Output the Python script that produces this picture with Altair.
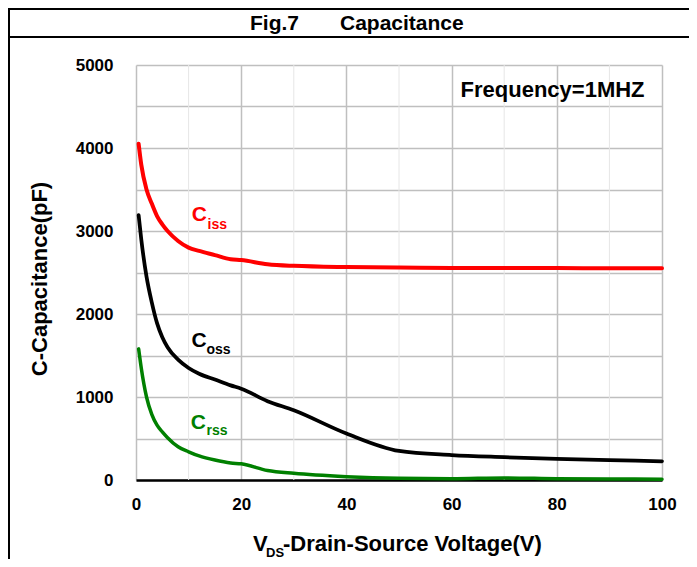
import altair as alt
import pandas as pd

# ---- data ----
V = [0.5, 1, 2, 3, 4, 5, 6, 8, 10, 12, 15, 18, 20, 25, 30, 40, 50, 60, 70, 80, 90, 100]
ciss = [4050, 3800, 3500, 3330, 3180, 3080, 3000, 2880, 2800, 2760, 2710, 2660, 2650, 2600, 2580,
        2565, 2560, 2555, 2555, 2555, 2550, 2550]
coss = [3190, 2900, 2450, 2140, 1890, 1720, 1600, 1450, 1350, 1280, 1210, 1140, 1100, 950, 840,
        560, 350, 300, 275, 255, 240, 225]
crss = [1580, 1350, 1000, 790, 660, 580, 510, 400, 340, 290, 240, 205, 195, 115, 80,
        40, 20, 15, 25, 15, 12, 10]
series_names = ["Ciss", "Coss", "Crss"]
series_colors = ["#ff0000", "#000000", "#008000"]
series_widths = [4, 3.5, 4]

x_ticks = [0, 20, 40, 60, 80, 100]
x_minor = [10, 30, 50, 70, 90]
y_ticks = list(range(0, 5001, 500))

label_main = ["C", "C", "C"]
label_sub = ["iss", "oss", "rss"]
label_main_v = [10.6, 10.55, 10.4]
label_main_c = [3120, 1602, 620]
label_sub_v = [13.6, 13.4, 13.4]
label_sub_c = [3024, 1524, 542]

freq_text = "Frequency=1MHZ"
title_a = "Fig.7"
title_b = "Capacitance"
y_title = "C-Capacitance(pF)"
x_title_main = "V"
x_title_sub = "DS"
x_title_rest = "-Drain-Source Voltage(V)"

FONT = "Liberation Sans"
W, H = 526, 415
PAD = {"left": 128, "top": 57, "right": 27, "bottom": 79}
GRID = "#bfbfbf"

rows = []
for name, vals in zip(series_names, (ciss, coss, crss)):
    for v, c in zip(V, vals):
        rows.append({"series": name, "V": v, "C": c})
df = pd.DataFrame(rows)

xs = alt.Scale(domain=[0, 100], nice=False, zero=False)
ys = alt.Scale(domain=[0, 5000], nice=False)
X_AX = alt.Axis(values=x_ticks, title=None, grid=True, gridColor=GRID, gridWidth=1.5,
                domain=True, domainColor="#000000", domainWidth=2.5, ticks=False,
                labelFont=FONT, labelFontSize=17, labelFontWeight="bold", labelColor="#000000",
                labelPadding=16, labelFlush=False, labelOverlap=False)
Y_AX = alt.Axis(values=y_ticks, title=None, grid=True, gridColor=GRID, gridWidth=1.5,
                domain=False, ticks=False, format="d",
                labelExpr="datum.value % 1000 === 0 ? datum.label : ''",
                labelFont=FONT, labelFontSize=17, labelFontWeight="bold", labelColor="#000000",
                labelPadding=23, labelOverlap=False)
color = alt.Color("series:N", scale=alt.Scale(domain=series_names, range=series_colors), legend=None)

minor = alt.Chart(pd.DataFrame({"V": x_minor})).mark_rule(color="#e6e6e6", strokeWidth=1).encode(
    x=alt.X("V:Q", scale=xs, axis=X_AX))

lines = alt.Chart(df).mark_line(interpolate="monotone", strokeCap="round", strokeJoin="round").encode(
    x=alt.X("V:Q", scale=xs, axis=X_AX),
    y=alt.Y("C:Q", scale=ys, axis=Y_AX),
    color=color,
    strokeWidth=alt.StrokeWidth("series:N", scale=alt.Scale(domain=series_names, range=series_widths),
                                legend=None),
    order=alt.Order("V:Q"),
)

lab_main_df = pd.DataFrame({"V": label_main_v, "C": label_main_c, "t": label_main, "series": series_names})
lab_sub_df = pd.DataFrame({"V": label_sub_v, "C": label_sub_c, "t": label_sub, "series": series_names})

lab_main_layer = alt.Chart(lab_main_df).mark_text(
    font=FONT, fontSize=21, fontWeight="bold", align="left", baseline="alphabetic").encode(
    x=alt.X("V:Q", scale=xs, axis=X_AX), y=alt.Y("C:Q", scale=ys, axis=Y_AX), text="t:N", color=color)
lab_sub_layer = alt.Chart(lab_sub_df).mark_text(
    font=FONT, fontSize=14, fontWeight="bold", align="left", baseline="alphabetic").encode(
    x=alt.X("V:Q", scale=xs, axis=X_AX), y=alt.Y("C:Q", scale=ys, axis=Y_AX), text="t:N", color=color)

freq_layer = alt.Chart(pd.DataFrame({"V": [61.7], "C": [4611], "t": [freq_text]})).mark_text(
    font=FONT, fontSize=22, fontWeight="bold", align="left", baseline="alphabetic", color="#000000").encode(
    x=alt.X("V:Q", scale=xs, axis=X_AX), y=alt.Y("C:Q", scale=ys, axis=Y_AX), text="t:N")

one = pd.DataFrame({"a": [0]})


def ptext(txt, x, y, size, align="left", angle=None):
    kw = dict(text=txt, font=FONT, fontSize=size, fontWeight="bold", color="#000000",
              align=align, baseline="alphabetic")
    if angle is not None:
        kw["angle"] = angle
    return alt.Chart(one).mark_text(**kw).encode(x=alt.value(x), y=alt.value(y))


def prule(x, x2, y, y2=None):
    enc = dict(x=alt.value(x), y=alt.value(y))
    if x2 is not None:
        enc["x2"] = alt.value(x2)
    if y2 is not None:
        enc["y2"] = alt.value(y2)
    return alt.Chart(one).mark_rule(color="#000000", strokeWidth=2).encode(**enc)


svg_w = W + PAD["left"] + PAD["right"]
svg_h = H + PAD["top"] + PAD["bottom"]
frame = [
    prule(-PAD["left"] + 1, svg_w - PAD["left"], -PAD["top"] + 1),
    prule(-PAD["left"] + 1, svg_w - PAD["left"], -28),
    prule(-PAD["left"] + 1, None, -PAD["top"], svg_h - PAD["top"]),
]

texts = [
    ptext(title_a, 114, -35, 21),
    ptext(title_b, 204, -35, 21),
    ptext(y_title, -89, 214, 22, align="center", angle=270),
    ptext(x_title_main, 117, 486, 22),
    ptext(x_title_sub, 130, 492, 13),
    ptext(x_title_rest, 147, 486, 22),
]

chart = alt.layer(minor, lines, lab_main_layer, lab_sub_layer, freq_layer, *frame, *texts).properties(
    width=W, height=H, padding=PAD, autosize=alt.AutoSizeParams(type="none"),
    background="#ffffff",
).configure_view(stroke=None)

chart.save("out.html", embed_options={"renderer": "svg", "actions": False})
